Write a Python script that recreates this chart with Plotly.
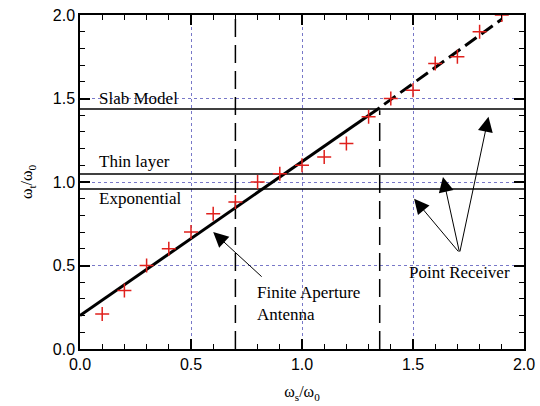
import plotly.graph_objects as go

# ---- data ----
meas_x = [0.1, 0.2, 0.3, 0.4, 0.5, 0.6, 0.7, 0.8, 0.9, 1.0,
          1.1, 1.2, 1.3, 1.4, 1.5, 1.6, 1.7, 1.8, 1.9]
meas_y = [0.21, 0.35, 0.50, 0.60, 0.70, 0.81, 0.88, 1.00, 1.05, 1.10,
          1.15, 1.23, 1.39, 1.50, 1.55, 1.71, 1.75, 1.90, 2.00]

fit_solid_x = [0.0, 1.35]
fit_solid_y = [0.20, 1.445]
fit_dash_x = [1.37, 1.90]
fit_dash_y = [1.465, 1.975]

model_levels = [1.437, 1.048, 0.958]          # Slab, Thin layer, Exponential
model_labels = ["Slab Model", "Thin layer", "Exponential"]
model_label_y = [1.50, 1.12, 0.90]

vline1_x = [0.7, 0.7]
vline1_y = [0.0, 2.0]
vline2_x = [1.35, 1.35]
vline2_y = [0.0, 1.43]

# arrows: (tip x, tip y, tail x, tail y)
fa_tip = (0.60, 0.70)
fa_tail = (0.825, 0.425)
pr_src = (1.71, 0.575)
pr_tips = [(1.505, 0.90), (1.635, 1.03), (1.84, 1.39)]

x_ticks = [0.0, 0.5, 1.0, 1.5, 2.0]
y_ticks = [0.0, 0.5, 1.0, 1.5, 2.0]

SERIF = "Liberation Serif, Times New Roman, serif"
SANS = "Liberation Sans, Arial, sans-serif"

fig = go.Figure()

# horizontal model lines
for lvl in model_levels:
    fig.add_trace(go.Scatter(x=[0, 2], y=[lvl, lvl], mode="lines",
                             line=dict(color="black", width=1.5),
                             hoverinfo="skip", showlegend=False))

# vertical dashed lines
fig.add_trace(go.Scatter(x=vline1_x, y=vline1_y, mode="lines",
                         line=dict(color="black", width=1.5, dash="18px,8px"),
                         showlegend=False))
fig.add_trace(go.Scatter(x=vline2_x, y=vline2_y, mode="lines",
                         line=dict(color="black", width=1.5, dash="18px,8px"),
                         showlegend=False))

# fit line
fig.add_trace(go.Scatter(x=fit_solid_x, y=fit_solid_y, mode="lines",
                         line=dict(color="black", width=3), showlegend=False))
fig.add_trace(go.Scatter(x=fit_dash_x, y=fit_dash_y, mode="lines",
                         line=dict(color="black", width=3, dash="14px,6px"),
                         showlegend=False))

# measured points
fig.add_trace(go.Scatter(x=meas_x, y=meas_y, mode="markers",
                         marker=dict(symbol="cross-thin", size=10,
                                     line=dict(color="#e0201c", width=1.5)),
                         showlegend=False))

ann = []
for lab, yy in zip(model_labels, model_label_y):
    ann.append(dict(x=0.075, y=yy, text=lab, showarrow=False, xanchor="left",
                    yanchor="middle", font=dict(family=SERIF, size=17, color="black")))

arrow_style = dict(xref="x", yref="y", axref="x", ayref="y", text="",
                   showarrow=True, arrowhead=2, arrowsize=3, arrowwidth=1,
                   arrowcolor="black")
ann.append(dict(x=fa_tip[0], y=fa_tip[1], ax=fa_tail[0], ay=fa_tail[1], **arrow_style))
ann.append(dict(x=0.79, y=0.272, text="Finite Aperture<br>Antenna", showarrow=False,
                xanchor="left", yanchor="middle", align="left",
                font=dict(family=SERIF, size=17, color="black")))
for tx, ty in pr_tips:
    ann.append(dict(x=tx, y=ty, ax=pr_src[0], ay=pr_src[1], **arrow_style))
ann.append(dict(x=1.71, y=0.46, text="Point Receiver", showarrow=False,
                xanchor="center", yanchor="middle",
                font=dict(family=SERIF, size=17, color="black")))

axis_common = dict(
    showline=True, linecolor="black", linewidth=1.5, mirror="ticks",
    ticks="inside", ticklen=10, tickwidth=1.5, tickcolor="black",
    showgrid=True, gridcolor="#7878c8", griddash="dot", gridwidth=1,
    zeroline=False, tickformat=".1f", automargin=False,
    tickfont=dict(family=SANS, size=16, color="black"),
    minor=dict(dtick=0.1, ticks="inside", ticklen=5, tickwidth=1,
               tickcolor="black", showgrid=False),
)

fig.update_layout(
    width=540, height=406,
    margin=dict(l=80, r=16, t=15, b=57),
    paper_bgcolor="white", plot_bgcolor="white",
    annotations=ann,
    xaxis=dict(range=[0, 2], tickvals=x_ticks,
               title=dict(text="ω<sub>s</sub>/ω<sub>0</sub>", standoff=14,
                          font=dict(family=SERIF, size=16, color="black")),
               **axis_common),
    yaxis=dict(range=[0, 2], tickvals=y_ticks,
               title=dict(text="ω<sub>t</sub>/ω<sub>0</sub>", standoff=16,
                          font=dict(family=SERIF, size=16, color="black")),
               **axis_common),
)

fig.write_html("out.html")
